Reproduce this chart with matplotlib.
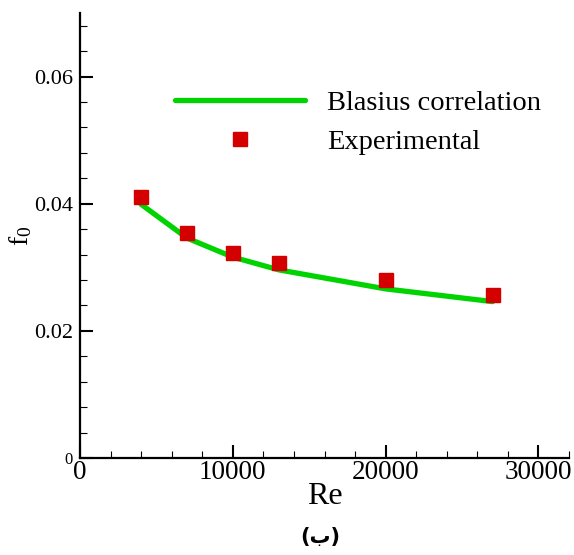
import matplotlib
matplotlib.use("Agg")
import matplotlib.pyplot as plt
from matplotlib.ticker import MultipleLocator

# data
re_blasius = [4000, 7000, 10000, 13000, 20000, 27000]
f_blasius = [0.0399, 0.0346, 0.0316, 0.0296, 0.0266, 0.0246]
re_exp = [4000, 7000, 10000, 13000, 20000, 27000]
f_exp = [0.0411, 0.0354, 0.0323, 0.0307, 0.0280, 0.0257]
x_ticks = [0, 10000, 20000, 30000]
y_ticks = [0, 0.02, 0.04, 0.06]
y_tick_labels = ["0", "0.02", "0.04", "0.06"]

plt.rcParams['font.family'] = ['Liberation Serif', 'DejaVu Sans']
plt.rcParams['mathtext.fontset'] = 'stix'

fig = plt.figure(figsize=(5.74, 5.55), dpi=100)
ax = fig.add_axes([0.1394, 0.1748, 0.8519, 0.8018])

green = '#00d400'
red = '#d40000'

ax.plot(re_blasius, f_blasius, color=green, lw=3.8, solid_capstyle='round',
        label='Blasius correlation')
ax.plot(re_exp, f_exp, ls='none', marker='s', ms=10, color=red, mec=red,
        label='Experimental')

ax.set_xlim(0, 32000)
ax.set_ylim(0, 0.07)
ax.set_xticks(x_ticks)
ax.set_xticklabels([str(v) for v in x_ticks])
ax.set_yticks(y_ticks)
ax.set_yticklabels(y_tick_labels)
ax.xaxis.set_minor_locator(MultipleLocator(2000))
ax.yaxis.set_minor_locator(MultipleLocator(0.004))

for side in ['top', 'right']:
    ax.spines[side].set_visible(False)
for side in ['left', 'bottom']:
    ax.spines[side].set_linewidth(1.6)

ax.tick_params(which='major', direction='in', length=9.5, width=1.5)
ax.tick_params(which='minor', direction='in', length=5, width=0.8)
ax.tick_params(axis='x', which='major', labelsize=19.5, pad=1.5)
ax.tick_params(axis='y', which='major', labelsize=16, pad=5)
ax.get_yticklabels()[0].set_fontsize(12)

ax.set_xlabel('Re', fontsize=23, labelpad=-2)
ax.set_ylabel(r'$\mathregular{f_0}$', fontsize=20)
ax.yaxis.set_label_coords(-0.093, 0.5)

ax.legend(loc='upper left', bbox_to_anchor=(175 / 574, 1 - 90 / 555),
          bbox_transform=fig.transFigure, frameon=False, fontsize=20.5,
          handlelength=4.55, handletextpad=0.8, labelspacing=0.45,
          borderpad=0, borderaxespad=0, numpoints=1)

fig.text(320 / 574, 1 - 537 / 555, '(ب)', fontsize=15, fontweight='bold',
         family=['DejaVu Sans'], ha='center', va='center')

fig.savefig('out.png', dpi=100)
